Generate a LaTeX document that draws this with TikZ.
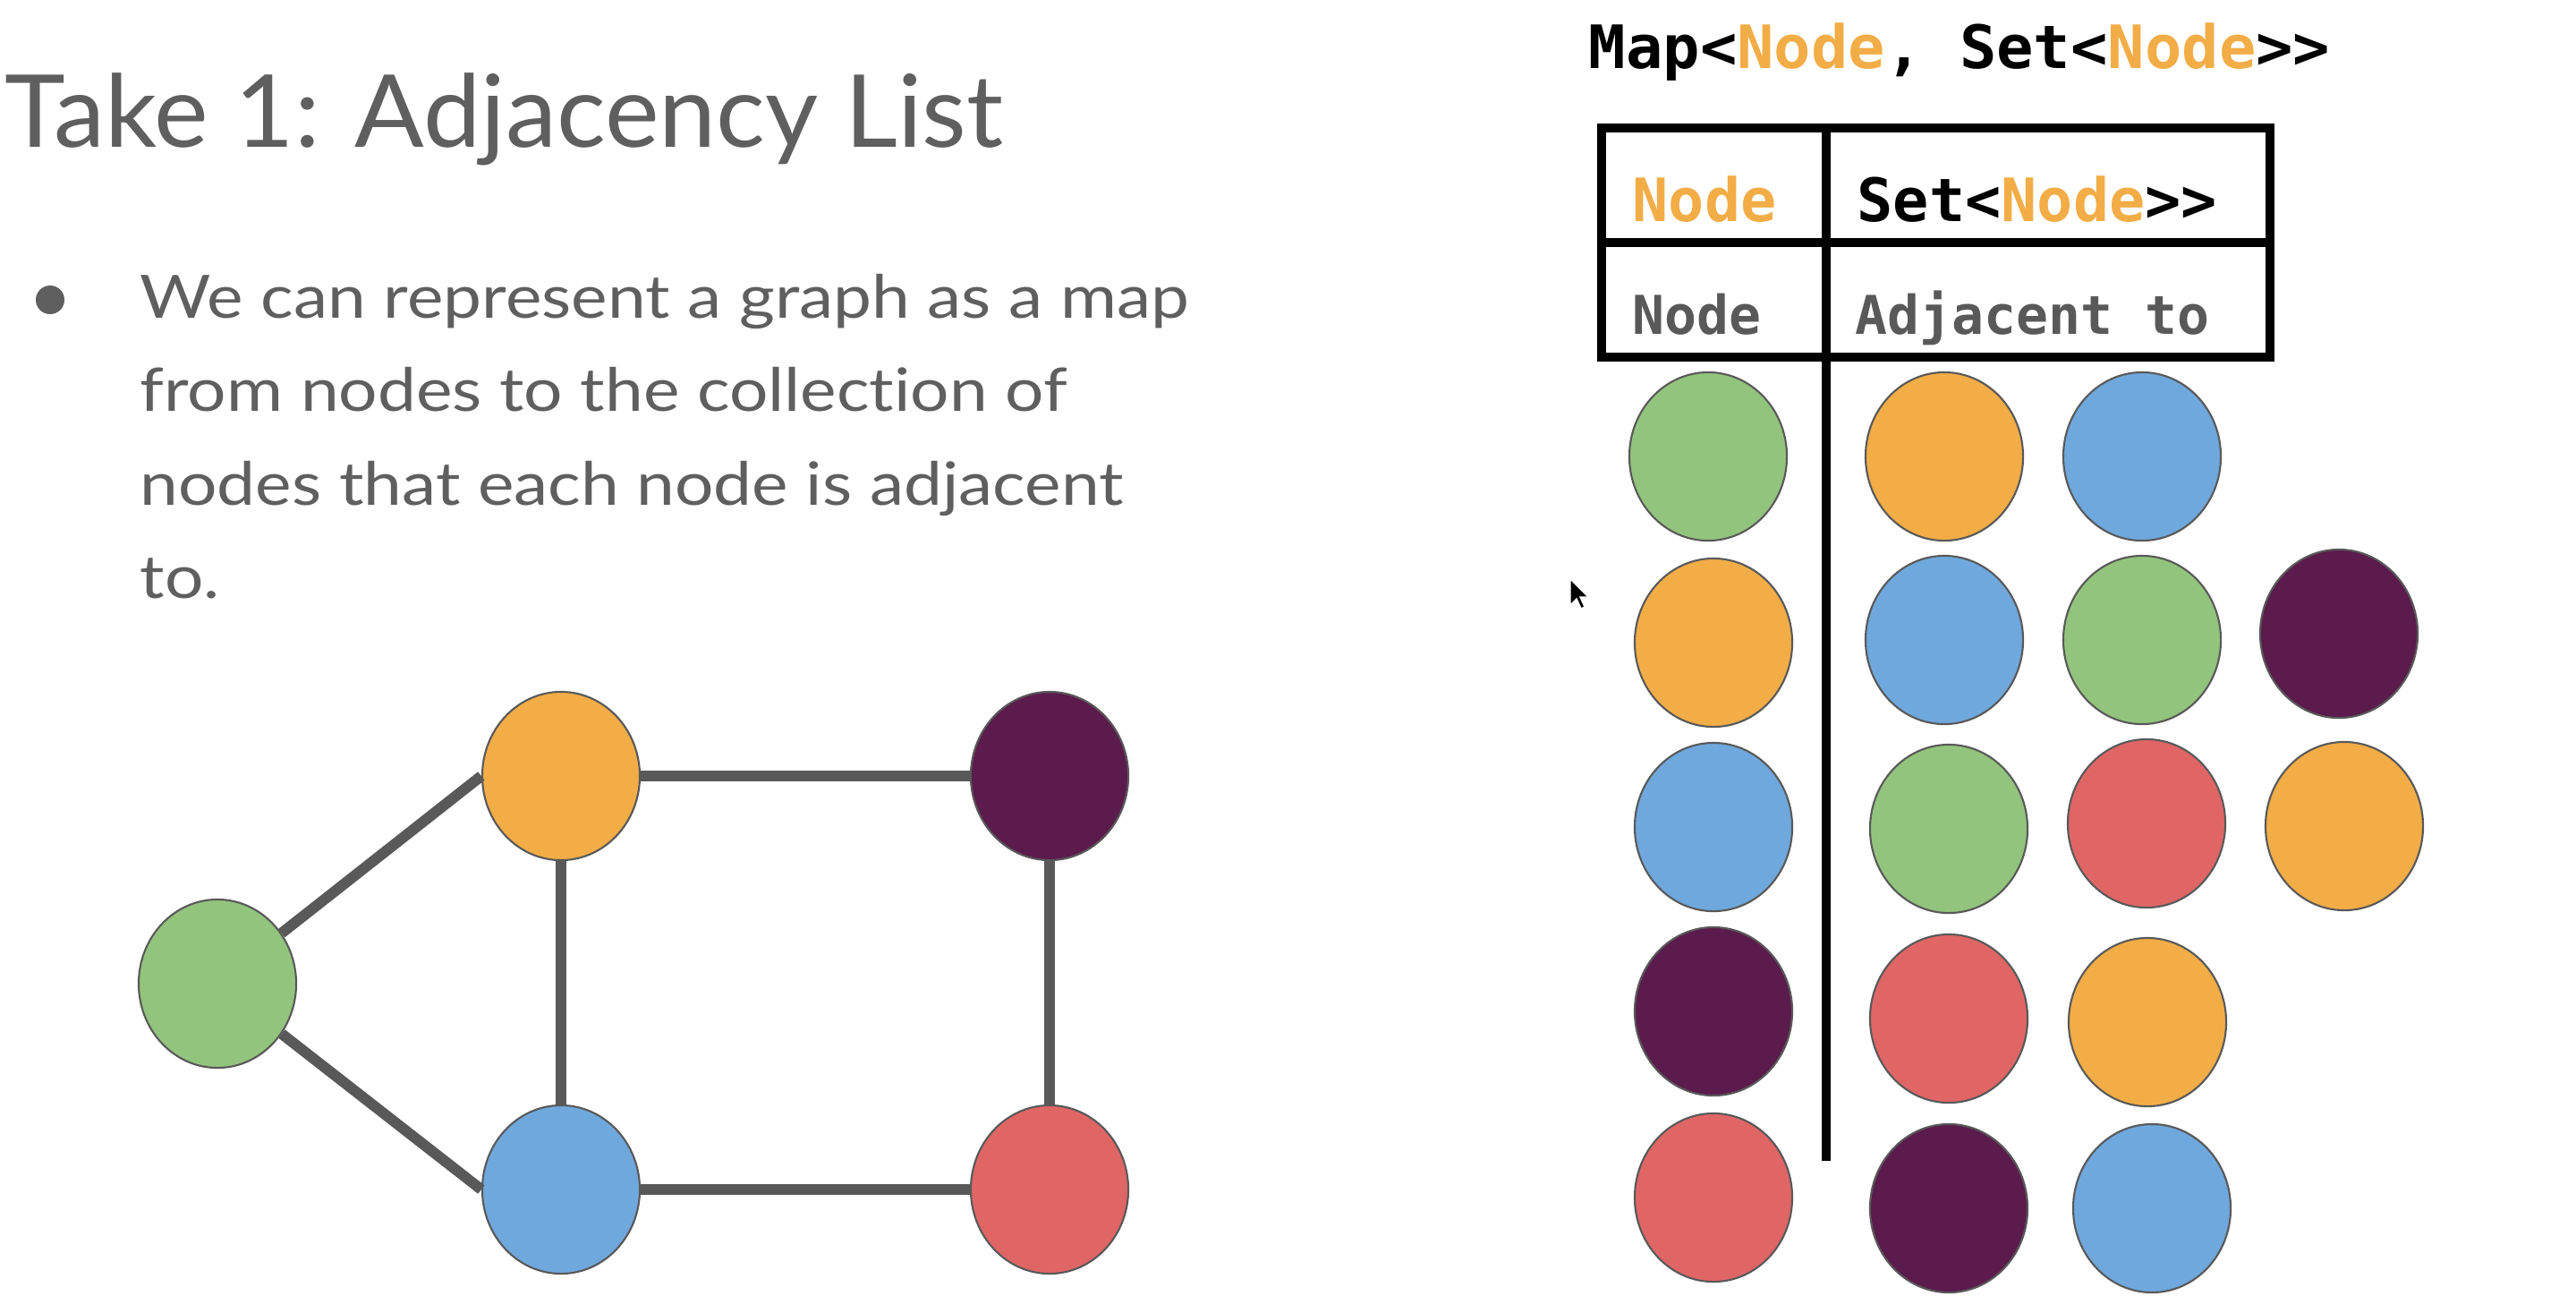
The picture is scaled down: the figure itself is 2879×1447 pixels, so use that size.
\documentclass[tikz,border=0pt]{standalone}
\usepackage{fontspec}
\setmainfont{Lato}[Ligatures=NoCommon]
\newfontfamily\bodyfont{Lato}[FakeStretch=1.147,Ligatures=NoCommon]
\newfontfamily\titlefont{Lato}[FakeStretch=1.02,Ligatures=NoCommon]
\setmonofont{DejaVu Sans Mono}
\newfontfamily\wmono{DejaVu Sans Mono}[FakeStretch=1.03]
\usetikzlibrary{shapes.geometric}
\definecolor{cgreen}{HTML}{93C47D}
\definecolor{corange}{HTML}{F2AD47}
\definecolor{cblue}{HTML}{6FA8DC}
\definecolor{cred}{HTML}{E06666}
\definecolor{cpurple}{HTML}{5B1B4C}
\definecolor{cgray}{HTML}{595959}
\definecolor{ctext}{HTML}{5F5F5F}
\begin{document}
\begin{tikzpicture}[x=0.01cm,y=-0.01cm,
  dot/.style={ellipse,minimum width=1.76cm,minimum height=1.88cm,inner sep=0pt,draw=cgray,line width=0.6pt},
  gdot/.style={dot,fill=cgreen},
  odot/.style={dot,fill=corange},
  bdot/.style={dot,fill=cblue},
  rdot/.style={dot,fill=cred},
  pdot/.style={dot,fill=cpurple},
  edge/.style={cgray,line width=3.4pt},
  rule/.style={black,line width=2.6pt},
  txt/.style={anchor=base west,inner sep=0pt,text=ctext},
  body/.style={txt,font=\bodyfont\fontsize{19pt}{23pt}\selectfont},
  mono/.style={anchor=base west,inner sep=0pt,font=\ttfamily\bfseries\fontsize{19pt}{22pt}\selectfont},
  monosm/.style={anchor=base west,inner sep=0pt,text=cgray,font=\ttfamily\bfseries\fontsize{17pt}{20pt}\selectfont}
]
\useasboundingbox (0,0) rectangle (2879,1447);
\fill[white] (0,0) rectangle (2879,1447);

% title and bullet text
\node[txt,font=\titlefont\fontsize{32pt}{38pt}\selectfont] (title) at (5,164) {Take 1: Adjacency List};
\fill[ctext] (56,335) circle[radius=16];
\node[body] (l1) at (156,355) {We can represent a graph as a map};
\node[body] (l2) at (156,459) {from nodes to the collection of};
\node[body] (l3) at (156,564) {nodes that each node is adjacent};
\node[body] (l4) at (156,668) {to.};

% graph
\node[gdot] (g) at (243,1099) {};
\node[odot] (o) at (627,867) {};
\node[pdot] (p) at (1173,867) {};
\node[bdot] (b) at (627,1329) {};
\node[rdot] (r) at (1173,1329) {};
\draw[edge] (g) -- (o.west);
\draw[edge] (g) -- (b.west);
\draw[edge] (o) -- (p);
\draw[edge] (o) -- (b);
\draw[edge] (p) -- (r);
\draw[edge] (b) -- (r);

% type header
\node[mono,font=\wmono\bfseries\fontsize{19pt}{22pt}\selectfont] (maptype) at (1775,76) {Map<\textcolor{corange}{Node}, Set<\textcolor{corange}{Node}>>};

% table
\coordinate (tl) at (1790,143);
\coordinate (br) at (2537,399);
\coordinate (ml) at (1790,271);
\coordinate (mr) at (2537,271);
\coordinate (dtop) at (2041,143);
\coordinate (dbot) at (2041,1297);
\draw[rule] (tl) rectangle (br);
\draw[rule] (ml) -- (mr);
\draw[rule] (dtop) -- (dbot);
\node[mono,text=corange] (hk) at (1824,247) {Node};
\node[mono] (hv) at (2075,247) {Set<\textcolor{corange}{Node}>>};
\node[monosm] (rk) at (1824,373) {Node};
\node[monosm] (rv) at (2073,373) {Adjacent to};

% adjacency rows
\node[gdot] (k1) at (1909,510) {};
\node[odot] (a11) at (2173,510) {};
\node[bdot] (a12) at (2394,510) {};

\node[odot] (k2) at (1915,718) {};
\node[bdot] (a21) at (2173,715) {};
\node[gdot] (a22) at (2394,715) {};
\node[pdot] (a23) at (2614,708) {};

\node[bdot] (k3) at (1915,924) {};
\node[gdot] (a31) at (2178,926) {};
\node[rdot] (a32) at (2399,920) {};
\node[odot] (a33) at (2620,923) {};

\node[pdot] (k4) at (1915,1130) {};
\node[rdot] (a41) at (2178,1138) {};
\node[odot] (a42) at (2400,1142) {};

\node[rdot] (k5) at (1915,1338) {};
\node[pdot] (a51) at (2178,1350) {};
\node[bdot] (a52) at (2405,1350) {};

% mouse pointer
\filldraw[fill=black,draw=white,line width=0.4pt] (1755,647) -- (1755,676) -- (1762,669) -- (1767,680) -- (1771,678) -- (1766,667) -- (1775,667) -- cycle;
\end{tikzpicture}
\end{document}
